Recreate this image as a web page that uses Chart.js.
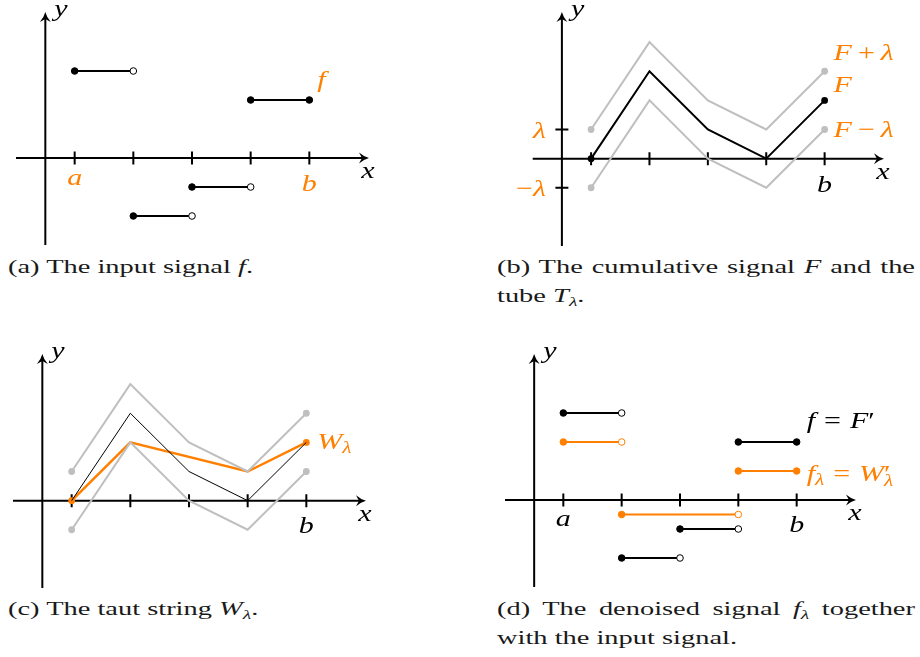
<!DOCTYPE html>
<html>
<head>
<meta charset="utf-8">
<script src="https://cdn.jsdelivr.net/npm/chart.js"></script>
<style>
  body { margin: 0; background: #fff; width: 920px; height: 657px; position: relative; overflow: hidden; }
  .panel { position: absolute; }
  .cap { position: absolute; font-family: "Liberation Serif", "Times New Roman", serif; font-size: 19px; line-height: 20px;
         color: #1a1a1a; white-space: nowrap; transform-origin: 0 0; display: inline-block; }
  .cap sub { font-size: 13px; vertical-align: -4px; line-height: 0; }
</style>
</head>
<body>
<canvas class="panel" id="chartA" width="460" height="250" style="left:0;top:0"></canvas>
<canvas class="panel" id="chartB" width="460" height="250" style="left:460px;top:0"></canvas>
<canvas class="panel" id="chartC" width="460" height="262" style="left:0;top:330px"></canvas>
<canvas class="panel" id="chartD" width="460" height="262" style="left:460px;top:330px"></canvas>

<div class="cap" id="capA" style="left:8px;top:257px">(a) The input signal <i>f</i>.</div>
<div class="cap just" style="left:497px;top:257px">(b) The cumulative signal <i>F</i> and the</div>
<div class="cap" style="left:497px;top:286px">tube <i>T</i><sub><i>λ</i></sub>.</div>
<div class="cap" style="left:8px;top:599px">(c) The taut string <i>W</i><sub><i>λ</i></sub>.</div>
<div class="cap just" style="left:497px;top:599px">(d) The denoised signal <i>f</i><sub><i>λ</i></sub> together</div>
<div class="cap" style="left:497px;top:628px">with the input signal.</div>

<script>
// tick positions on the x axis (a ... b)
const ticksX = [1, 2, 3, 4, 5];

// (a) input signal, one value per interval [t_i, t_i+1)
const fValues = [3, -2, -1, 2];

// (b) cumulative signal F and the tube F +/- lambda
const lambda = 1;
const F = [0, 3, 1, 0, 2];
const Fplus = [1, 4, 2, 1, 3];
const Fminus = [-1, 2, 0, -1, 1];

// (c) taut string knots
const Wx = [1, 2, 4, 5];
const W = [0, 2, 1, 2];

// (d) denoised signal on [1,2), [2,4), [4,5]
const flEdges = [1, 2, 4, 5];
const flValues = [2, -0.5, 1];

const ORANGE = '#ff8000';
const GRAY = '#bfbfbf';
const BLACK = '#000';
const FONT = '"Liberation Serif", "Times New Roman", serif';
const FS = 24;     // label font size
const SX = 1.25;   // horizontal stretch of the labels

function pts(xs, ys) {
    return ys.map((y, i) => ({x: xs[i], y: y}));
}

// piecewise constant pieces: filled dot left, open dot right (last one closed)
function stepSets(edges, vals, color) {
    return vals.map((v, i) => {
        const last = i === vals.length - 1;
        return {
            data: [{x: edges[i], y: v}, {x: edges[i + 1], y: v}],
            borderColor: color, borderWidth: 2,
            pointRadius: 3.3, pointBorderWidth: 1,
            pointBorderColor: color,
            pointBackgroundColor: [color, last ? color : '#fff']
        };
    });
}

function lineSet(xs, ys, color, width, dots) {
    return {
        data: pts(xs, ys),
        borderColor: color, borderWidth: width,
        pointRadius: ys.map((v, i) => (dots && (i === 0 || i === ys.length - 1)) ? 3.4 : 0),
        pointBackgroundColor: color, pointBorderColor: color, pointBorderWidth: 0
    };
}

function arrow(ctx, x, y, ang) {
    ctx.save();
    ctx.translate(x, y);
    ctx.rotate(ang);
    ctx.beginPath();
    ctx.moveTo(1, 0);
    ctx.quadraticCurveTo(-4, -1.2, -9, -5.5);
    ctx.lineTo(-6, 0);
    ctx.lineTo(-9, 5.5);
    ctx.quadraticCurveTo(-4, 1.2, 1, 0);
    ctx.fill();
    ctx.restore();
}

// draws a small piece of math: parts = [{t, i: italic, s: small, dy, back, g: gap in em}]
function drawRich(ctx, parts, x, y, color, align) {
    ctx.save();
    ctx.fillStyle = color;
    ctx.textBaseline = 'alphabetic';
    ctx.textAlign = 'left';
    const fontOf = p => (p.i ? 'italic ' : '') + (p.s ? Math.round(FS * 0.7) : FS) + 'px ' + FONT;
    let cx = 0, prev = 0;
    const pos = parts.map(p => {
        ctx.font = fontOf(p);
        const g = (p.g || 0) * FS;
        const px = p.back ? prev : cx;
        const w = ctx.measureText(p.t).width + 2 * g;
        if (!p.back) prev = cx;
        cx = Math.max(cx, px + w);
        return px + g;
    });
    const total = cx * SX;
    let x0 = x;
    if (align === 'right') x0 = x - total;
    if (align === 'center') x0 = x - total / 2;
    ctx.translate(x0, y);
    ctx.scale(SX, 1);
    parts.forEach((p, k) => {
        ctx.font = fontOf(p);
        ctx.fillText(p.t, pos[k], p.dy || 0);
    });
    ctx.restore();
}

function axesPlugin(cfg) {
    return {
        id: 'axes',
        beforeDatasetsDraw(chart) {
            const {ctx, scales: {x, y}} = chart;
            const xAxis = x.getPixelForValue(0.5);
            const y0 = y.getPixelForValue(0);
            const xr = x.getPixelForValue(6);
            const yt = y.getPixelForValue(5);
            ctx.save();
            ctx.strokeStyle = BLACK;
            ctx.fillStyle = BLACK;
            ctx.lineWidth = 2;
            ctx.beginPath();
            ctx.moveTo(x.getPixelForValue(0), y0);
            ctx.lineTo(xr - 5, y0);
            ctx.moveTo(xAxis, y.getPixelForValue(-3));
            ctx.lineTo(xAxis, yt + 5);
            ctx.stroke();
            arrow(ctx, xr, y0, 0);
            arrow(ctx, xAxis, yt, -Math.PI / 2);
            ctx.beginPath();
            ticksX.forEach(t => {
                const px = x.getPixelForValue(t);
                ctx.moveTo(px, y0 - 6.5);
                ctx.lineTo(px, y0 + 6.5);
            });
            (cfg.yTicks || []).forEach(v => {
                const py = y.getPixelForValue(v);
                ctx.moveTo(xAxis - 6.5, py);
                ctx.lineTo(xAxis + 6.5, py);
            });
            ctx.stroke();
            ctx.restore();
        },
        afterDatasetsDraw(chart) {
            const {ctx, scales: {x, y}} = chart;
            const xAxis = x.getPixelForValue(0.5);
            const y0 = y.getPixelForValue(0);
            // axis names
            drawRich(ctx, [{t: 'x', i: 1}], x.getPixelForValue(6), y0 + 20, BLACK, 'center');
            drawRich(ctx, [{t: 'y', i: 1}], xAxis + 9, y.getPixelForValue(5) + 3, BLACK, 'left');
            (cfg.labels || []).forEach(l => {
                drawRich(ctx, l.parts, x.getPixelForValue(l.at[0]) + l.dx,
                         y.getPixelForValue(l.at[1]) + l.dy, l.color, l.align || 'left');
            });
        }
    };
}

function makeChart(id, datasets, padding, cfg) {
    return new Chart(document.getElementById(id).getContext('2d'), {
        type: 'line',
        data: {datasets: datasets},
        options: {
            responsive: false,
            animation: false,
            events: [],
            layout: {padding: padding},
            scales: {
                x: {type: 'linear', min: 0, max: 6, display: false},
                y: {type: 'linear', min: -3, max: 5, display: false}
            },
            plugins: {legend: {display: false}, tooltip: {enabled: false}}
        },
        plugins: [axesPlugin(cfg)]
    });
}

const labA = {t: 'a', i: 1}, labB = {t: 'b', i: 1};

// (a)
makeChart('chartA', stepSets(ticksX, fValues, BLACK),
    {left: 16, right: 92, top: 13, bottom: 3},
    {labels: [
        {parts: [labA], at: [ticksX[0], 0], dx: 0, dy: 27, color: ORANGE, align: 'center'},
        {parts: [labB], at: [ticksX[4], 0], dx: 0, dy: 33, color: ORANGE, align: 'center'},
        {parts: [{t: 'f', i: 1}], at: [ticksX[4], fValues[3]], dx: 8, dy: -13, color: ORANGE}
    ]});

// (b)
makeChart('chartB', [
        lineSet(ticksX, Fplus, GRAY, 2, true),
        lineSet(ticksX, Fminus, GRAY, 2, true),
        lineSet(ticksX, F, BLACK, 2, true)
    ],
    {left: 72.7, right: 37, top: 13, bottom: 3},
    {yTicks: [lambda, -lambda], labels: [
        {parts: [labB], at: [ticksX[4], 0], dx: 0, dy: 33, color: BLACK, align: 'center'},
        {parts: [{t: 'λ', i: 1}], at: [0.5, lambda], dx: -16, dy: 8, color: ORANGE, align: 'right'},
        {parts: [{t: '−'}, {t: 'λ', i: 1}], at: [0.5, -lambda], dx: -16, dy: 8, color: ORANGE, align: 'right'},
        {parts: [{t: 'F', i: 1}, {t: '+', g: 0.2}, {t: 'λ', i: 1}], at: [ticksX[4], Fplus[4]], dx: 9, dy: -11, color: ORANGE},
        {parts: [{t: 'F', i: 1}], at: [ticksX[4], F[4]], dx: 9, dy: -8, color: ORANGE},
        {parts: [{t: 'F', i: 1}, {t: '−', g: 0.2}, {t: 'λ', i: 1}], at: [ticksX[4], Fminus[4]], dx: 9, dy: 7, color: ORANGE}
    ]});

// (c)
makeChart('chartC', [
        lineSet(ticksX, Fplus, GRAY, 2, true),
        lineSet(ticksX, Fminus, GRAY, 2, true),
        lineSet(ticksX, F, BLACK, 1, false),
        lineSet(Wx, W, ORANGE, 2.5, true)
    ],
    {left: 13, right: 95, top: 25, bottom: 4},
    {labels: [
        {parts: [labB], at: [ticksX[4], 0], dx: 0, dy: 32, color: BLACK, align: 'center'},
        {parts: [{t: 'W', i: 1}, {t: 'λ', i: 1, s: 1, dy: 4}], at: [Wx[3], W[3]], dx: 11, dy: 7, color: ORANGE}
    ]});

// (d)
makeChart('chartD', stepSets(ticksX, fValues, BLACK).concat(stepSets(flEdges, flValues, ORANGE)),
    {left: 45, right: 65, top: 25, bottom: 4},
    {labels: [
        {parts: [labA], at: [ticksX[0], 0], dx: 0, dy: 26, color: BLACK, align: 'center'},
        {parts: [labB], at: [ticksX[4], 0], dx: 0, dy: 32, color: BLACK, align: 'center'},
        {parts: [{t: 'f', i: 1}, {t: '=', g: 0.3}, {t: 'F', i: 1}, {t: '′'}],
            at: [ticksX[4], fValues[3]], dx: 10, dy: -14, color: BLACK},
        {parts: [{t: 'f', i: 1}, {t: 'λ', i: 1, s: 1, dy: 4}, {t: '=', g: 0.3}, {t: 'W', i: 1}, {t: '′'},
                 {t: 'λ', i: 1, s: 1, dy: 5, back: 1}],
            at: [flEdges[3], flValues[2]], dx: 10, dy: 10, color: ORANGE}
    ]});

// captions: stretch horizontally like the reference
const capA = document.getElementById('capA');
const S = 245 / capA.getBoundingClientRect().width;
document.querySelectorAll('.cap').forEach(el => {
    el.style.transform = 'scaleX(' + S + ')';
    if (el.classList.contains('just')) {
        el.style.width = (418 / S) + 'px';
        el.style.textAlign = 'justify';
        el.style.textAlignLast = 'justify';
        el.style.whiteSpace = 'normal';
    }
});
</script>
</body>
</html>
